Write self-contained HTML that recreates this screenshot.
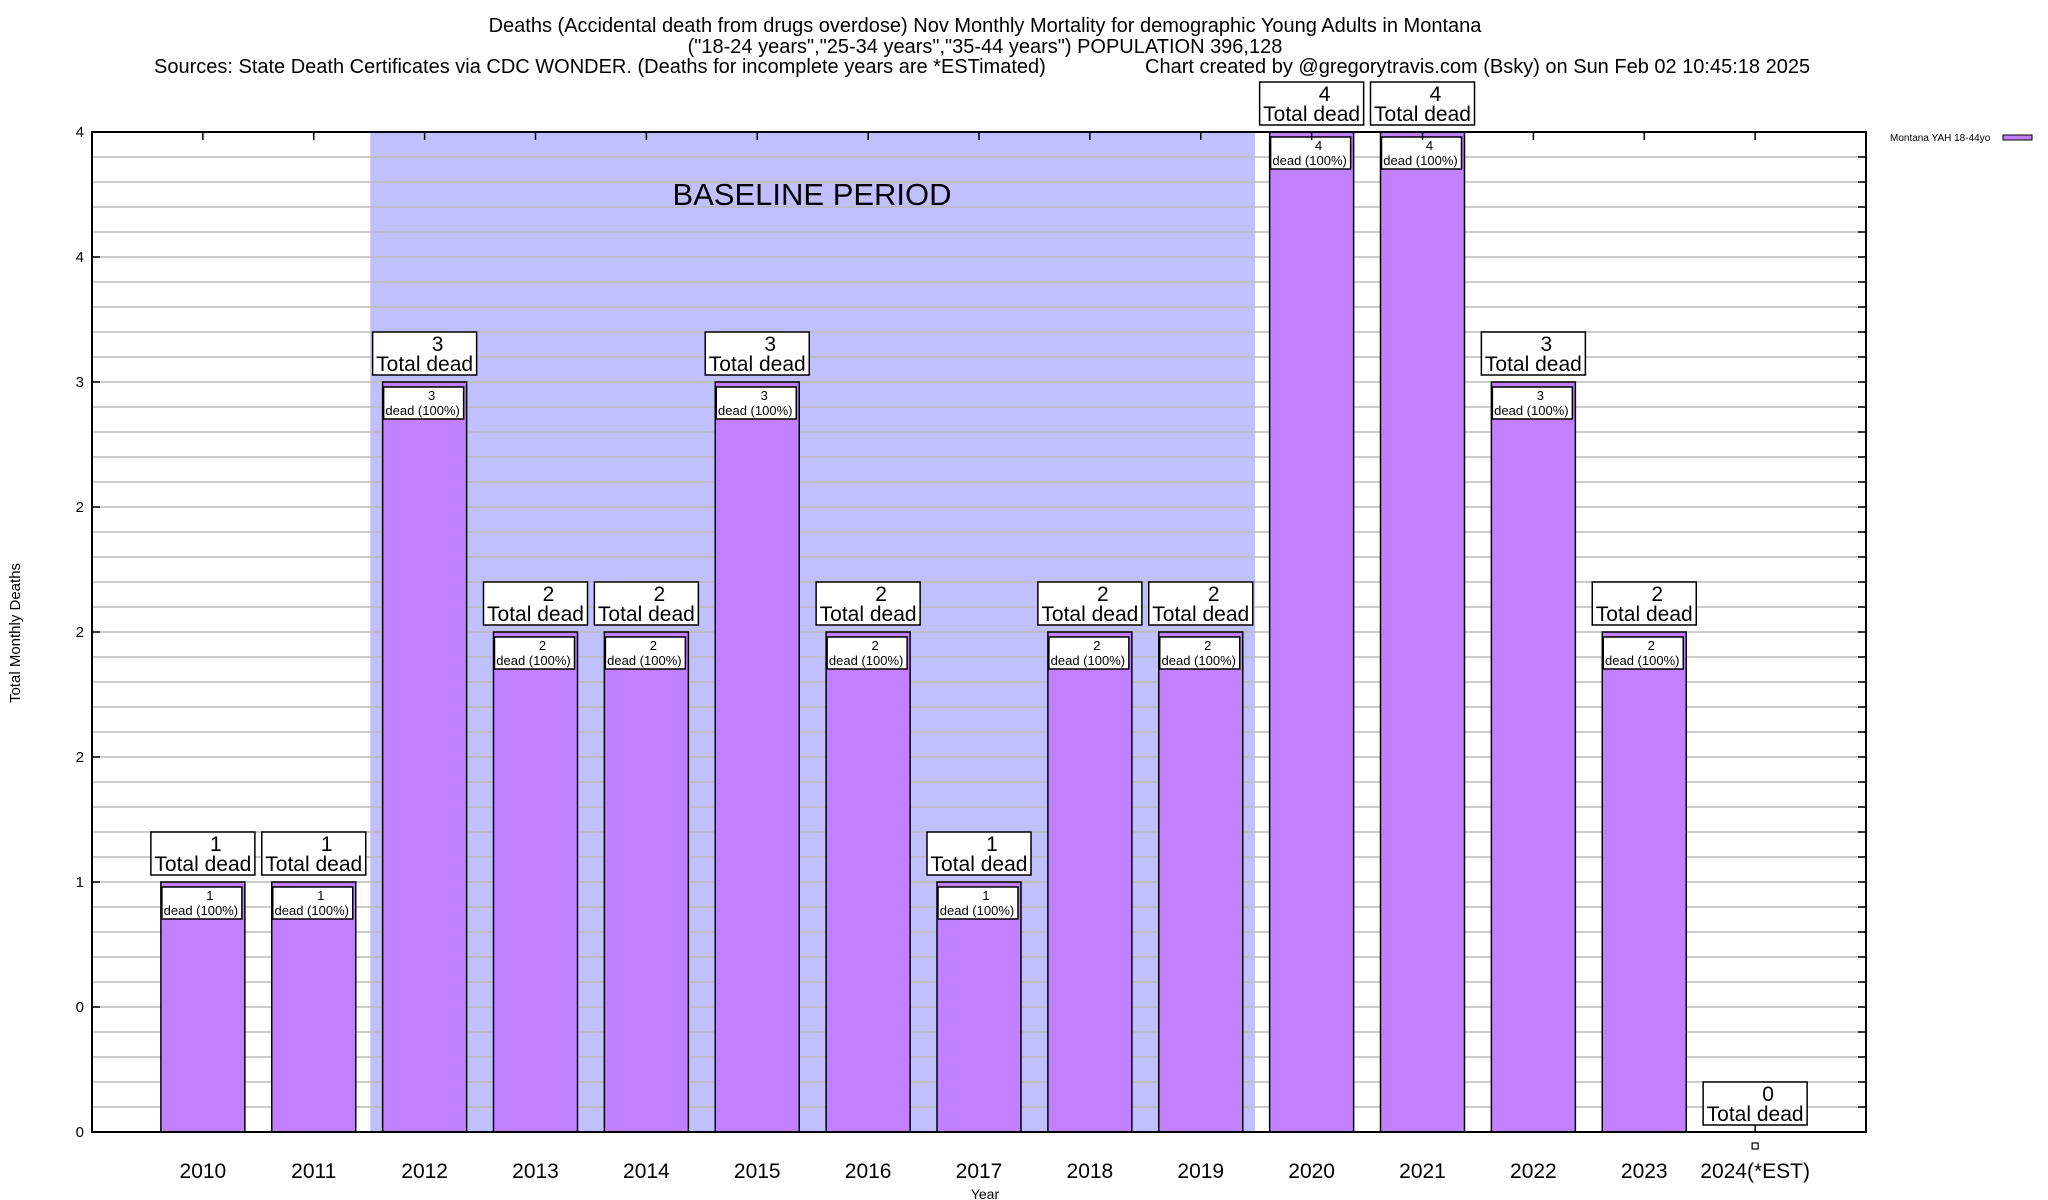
<!DOCTYPE html>
<html><head><meta charset="utf-8"><style>
body{margin:0;background:#fff;}
svg{display:block;font-family:"Liberation Sans",sans-serif;}
</style></head><body>
<svg id="chart" width="2048" height="1200" xmlns="http://www.w3.org/2000/svg">
<g font-size="20" text-anchor="middle" fill="#000">
<text x="985" y="32">Deaths (Accidental death from drugs overdose) Nov Monthly Mortality for demographic Young Adults in Montana</text>
<text x="985" y="53">("18-24 years","25-34 years","35-44 years") POPULATION 396,128</text>
<text x="154" y="73" text-anchor="start">Sources: State Death Certificates via CDC WONDER. (Deaths for incomplete years are *ESTimated)</text>
<text x="1145" y="73" text-anchor="start">Chart created by @gregorytravis.com (Bsky) on Sun Feb 02 10:45:18 2025</text>
</g>
<g id="plot"></g>
</svg>
<script>
const categories = ["2010","2011","2012","2013","2014","2015","2016","2017","2018","2019","2020","2021","2022","2023","2024(*EST)"];
const deaths = [1,1,3,2,2,3,2,1,2,2,4,4,3,2,0];
const yTicks = [0,0.5,1,1.5,2,2.5,3,3.5,4];
const baselineStart = 1.51, baselineEnd = 9.49;

const L=92,R=1866,T=132,B=1132;
const step=(R-L)/(categories.length+1);
const xs=i=>L+(i+1)*step;
const ys=v=>B-(v/4)*(B-T);
const NS="http://www.w3.org/2000/svg";
const g=document.getElementById('plot');
function mk(tag,attrs,parent){const e=document.createElementNS(NS,tag);for(const k in attrs)e.setAttribute(k,attrs[k]);(parent||g).appendChild(e);return e;}

let sh=mk('rect',{x:xs(baselineStart),y:T,width:xs(baselineEnd)-xs(baselineStart),height:B-T,fill:'#c0c0ff'});


let bt=mk('text',{x:812,y:205,'font-size':31,'text-anchor':'middle'});
bt.textContent='BASELINE PERIOD';



for(let k=1;k<40;k++){
  const v=k*0.1;
  const gl=mk('line',{x1:L,x2:R,y1:ys(v),y2:ys(v),stroke:'#bbb','stroke-width':1.5});
  
  
  mk('line',{x1:R-8,x2:R,y1:ys(v),y2:ys(v),stroke:'#000','stroke-width':1.5});
}
yTicks.forEach(v=>{
  const t=mk('text',{x:84,y:ys(v)+5,'font-size':15,'text-anchor':'end'});
  t.textContent=Math.round(v===0.5?0:v===2.5?2:v);
  
  
  mk('line',{x1:L,x2:L+8,y1:ys(v),y2:ys(v),stroke:'#000','stroke-width':1.5});
});

categories.forEach((c,i)=>{
  const x=xs(i),v=deaths[i];
  if(v>0){
    const b=mk('rect',{x:x-42,y:ys(v),width:84,height:B-ys(v),fill:'#c080ff',stroke:'#000','stroke-width':1.5});
    
    
    const ib=mk('rect',{x:x-41,y:ys(v)+5,width:80,height:32,fill:'#fff',stroke:'#000','stroke-width':1.5});
    
    
    const t1=mk('text',{x:x+7,y:ys(v)+18,'font-size':13,'text-anchor':'middle'});t1.textContent=v;
    const t2=mk('text',{x:x-2,y:ys(v)+33,'font-size':13,'text-anchor':'middle'});t2.textContent='dead (100%)';
  } else {
    mk('line',{x1:x,x2:x,y1:B,y2:B-7,stroke:'#000','stroke-width':1.5});
    mk('rect',{x:x-3,y:B+11,width:6,height:6,fill:'#fff',stroke:'#000','stroke-width':1.2});
  }
  const bb=ys(v)-7;
  const ob=mk('rect',{x:x-52,y:bb-43,width:104,height:43,fill:'#fff',stroke:'#000','stroke-width':1.5});
  
  
  const o1=mk('text',{x:x+13,y:bb-24,'font-size':21,'text-anchor':'middle'});o1.textContent=v;
  const o2=mk('text',{x:x,y:bb-4,'font-size':21,'text-anchor':'middle'});o2.textContent='Total dead';
  const xl=mk('text',{x:x,y:1178,'font-size':21,'text-anchor':'middle'});xl.textContent=c;
  
  
  mk('line',{x1:x,x2:x,y1:T,y2:T+8,stroke:'#000','stroke-width':1.5});
});

const fr=mk('rect',{x:L,y:T,width:R-L,height:B-T,fill:'none',stroke:'#000','stroke-width':2});



const xt=mk('text',{x:985,y:1199,'font-size':14,'text-anchor':'middle'});xt.textContent='Year';


const yt=mk('text',{x:0,y:0,'font-size':15,'text-anchor':'middle',transform:'translate(20,633) rotate(-90)'});yt.textContent='Total Monthly Deaths';



const lt=mk('text',{x:1890,y:141,'font-size':10});lt.textContent='Montana YAH 18-44yo';


const ls=mk('rect',{x:2003,y:135,width:29,height:5,fill:'#c080ff',stroke:'#000','stroke-width':1});


</script>
</body></html>
